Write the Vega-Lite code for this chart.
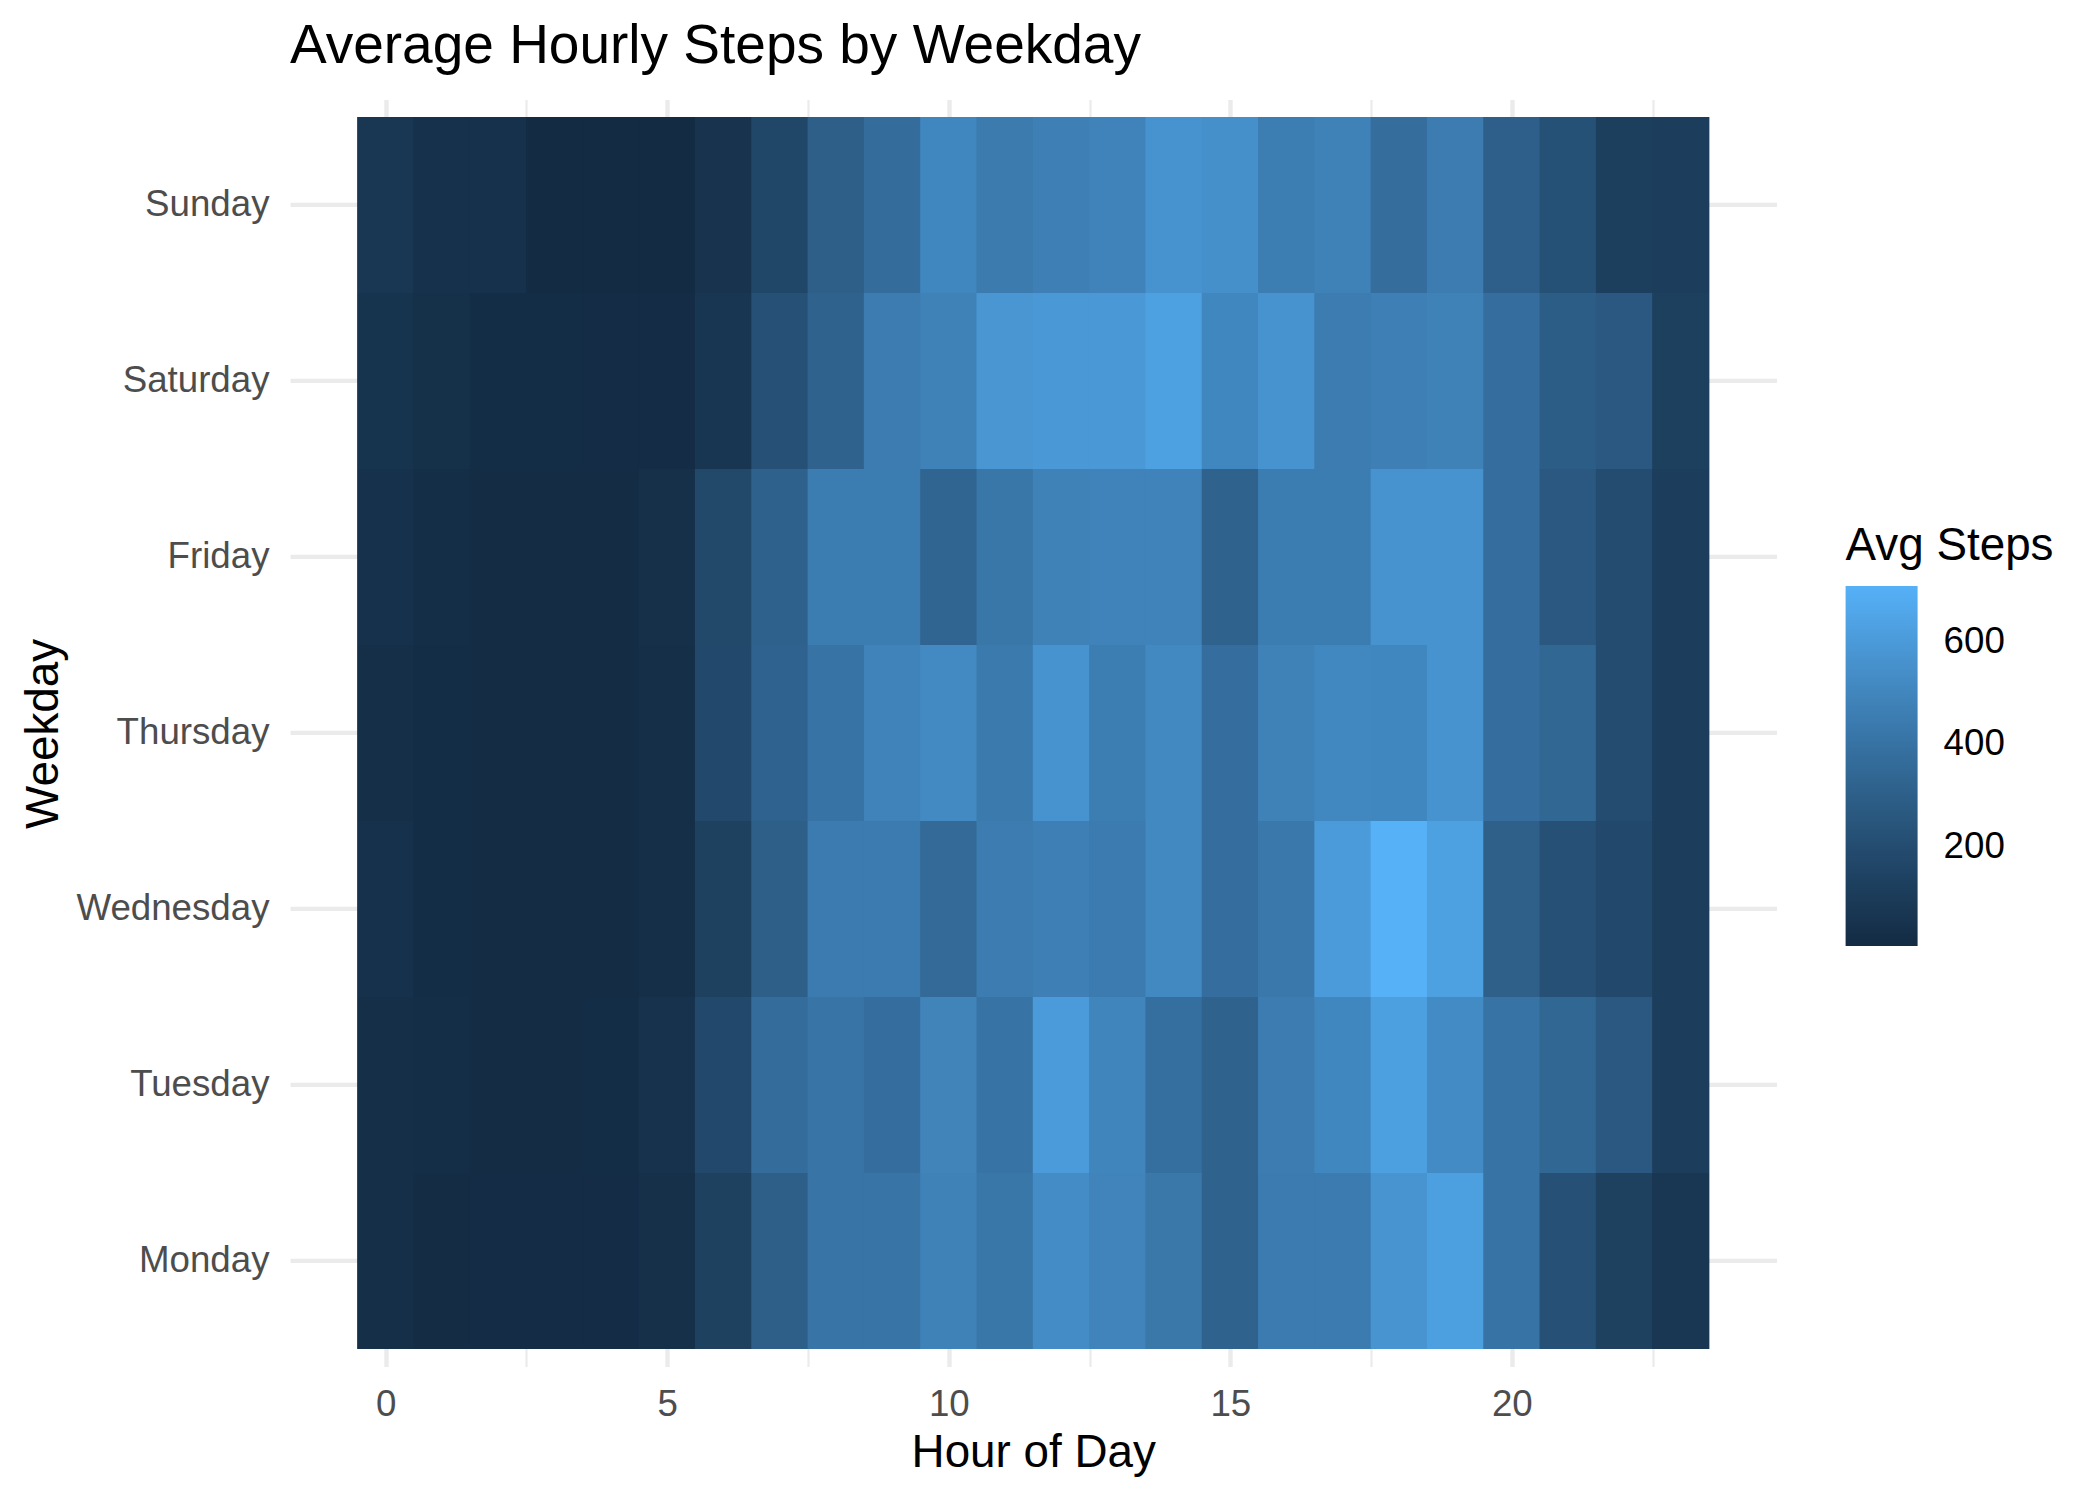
{
  "$schema": "https://vega.github.io/schema/vega-lite/v6.json",
  "autosize": {"type": "none"},
  "padding": {"left": 290, "top": 99.4, "right": 323.5, "bottom": 133.4},
  "width": 1486.5,
  "height": 1267.2,
  "background": "white",
  "title": {
    "text": "Average Hourly Steps by Weekday",
    "anchor": "start",
    "frame": "group",
    "baseline": "alphabetic",
    "offset": 35,
    "dy": 54,
    "font": "Liberation Sans",
    "fontSize": 55,
    "fontWeight": "normal",
    "color": "black",
    "limit": 2000
  },
  "config": {
    "view": {"stroke": null},
    "font": "Liberation Sans"
  },
  "data": {
    "values": [
      {"weekday":"Sunday","hour":0,"steps":72},{"weekday":"Sunday","hour":1,"steps":42},{"weekday":"Sunday","hour":2,"steps":42},{"weekday":"Sunday","hour":3,"steps":12},{"weekday":"Sunday","hour":4,"steps":8},{"weekday":"Sunday","hour":5,"steps":12},{"weekday":"Sunday","hour":6,"steps":55},{"weekday":"Sunday","hour":7,"steps":168},{"weekday":"Sunday","hour":8,"steps":301},{"weekday":"Sunday","hour":9,"steps":373},{"weekday":"Sunday","hour":10,"steps":504},{"weekday":"Sunday","hour":11,"steps":444},{"weekday":"Sunday","hour":12,"steps":471},{"weekday":"Sunday","hour":13,"steps":486},{"weekday":"Sunday","hour":14,"steps":564},{"weekday":"Sunday","hour":15,"steps":545},{"weekday":"Sunday","hour":16,"steps":458},{"weekday":"Sunday","hour":17,"steps":478},{"weekday":"Sunday","hour":18,"steps":378},{"weekday":"Sunday","hour":19,"steps":449},{"weekday":"Sunday","hour":20,"steps":302},{"weekday":"Sunday","hour":21,"steps":225},{"weekday":"Sunday","hour":22,"steps":126},{"weekday":"Sunday","hour":23,"steps":117},
      {"weekday":"Saturday","hour":0,"steps":60},{"weekday":"Saturday","hour":1,"steps":35},{"weekday":"Saturday","hour":2,"steps":20},{"weekday":"Saturday","hour":3,"steps":20},{"weekday":"Saturday","hour":4,"steps":15},{"weekday":"Saturday","hour":5,"steps":15},{"weekday":"Saturday","hour":6,"steps":70},{"weekday":"Saturday","hour":7,"steps":220},{"weekday":"Saturday","hour":8,"steps":320},{"weekday":"Saturday","hour":9,"steps":449},{"weekday":"Saturday","hour":10,"steps":480},{"weekday":"Saturday","hour":11,"steps":580},{"weekday":"Saturday","hour":12,"steps":590},{"weekday":"Saturday","hour":13,"steps":590},{"weekday":"Saturday","hour":14,"steps":630},{"weekday":"Saturday","hour":15,"steps":505},{"weekday":"Saturday","hour":16,"steps":565},{"weekday":"Saturday","hour":17,"steps":449},{"weekday":"Saturday","hour":18,"steps":470},{"weekday":"Saturday","hour":19,"steps":480},{"weekday":"Saturday","hour":20,"steps":380},{"weekday":"Saturday","hour":21,"steps":290},{"weekday":"Saturday","hour":22,"steps":265},{"weekday":"Saturday","hour":23,"steps":130},
      {"weekday":"Friday","hour":0,"steps":45},{"weekday":"Friday","hour":1,"steps":25},{"weekday":"Friday","hour":2,"steps":18},{"weekday":"Friday","hour":3,"steps":18},{"weekday":"Friday","hour":4,"steps":18},{"weekday":"Friday","hour":5,"steps":40},{"weekday":"Friday","hour":6,"steps":175},{"weekday":"Friday","hour":7,"steps":310},{"weekday":"Friday","hour":8,"steps":455},{"weekday":"Friday","hour":9,"steps":455},{"weekday":"Friday","hour":10,"steps":330},{"weekday":"Friday","hour":11,"steps":425},{"weekday":"Friday","hour":12,"steps":478},{"weekday":"Friday","hour":13,"steps":486},{"weekday":"Friday","hour":14,"steps":486},{"weekday":"Friday","hour":15,"steps":315},{"weekday":"Friday","hour":16,"steps":455},{"weekday":"Friday","hour":17,"steps":455},{"weekday":"Friday","hour":18,"steps":565},{"weekday":"Friday","hour":19,"steps":565},{"weekday":"Friday","hour":20,"steps":380},{"weekday":"Friday","hour":21,"steps":265},{"weekday":"Friday","hour":22,"steps":200},{"weekday":"Friday","hour":23,"steps":115},
      {"weekday":"Thursday","hour":0,"steps":30},{"weekday":"Thursday","hour":1,"steps":22},{"weekday":"Thursday","hour":2,"steps":18},{"weekday":"Thursday","hour":3,"steps":18},{"weekday":"Thursday","hour":4,"steps":18},{"weekday":"Thursday","hour":5,"steps":32},{"weekday":"Thursday","hour":6,"steps":180},{"weekday":"Thursday","hour":7,"steps":318},{"weekday":"Thursday","hour":8,"steps":405},{"weekday":"Thursday","hour":9,"steps":486},{"weekday":"Thursday","hour":10,"steps":520},{"weekday":"Thursday","hour":11,"steps":440},{"weekday":"Thursday","hour":12,"steps":565},{"weekday":"Thursday","hour":13,"steps":458},{"weekday":"Thursday","hour":14,"steps":515},{"weekday":"Thursday","hour":15,"steps":380},{"weekday":"Thursday","hour":16,"steps":478},{"weekday":"Thursday","hour":17,"steps":508},{"weekday":"Thursday","hour":18,"steps":505},{"weekday":"Thursday","hour":19,"steps":565},{"weekday":"Thursday","hour":20,"steps":380},{"weekday":"Thursday","hour":21,"steps":340},{"weekday":"Thursday","hour":22,"steps":200},{"weekday":"Thursday","hour":23,"steps":115},
      {"weekday":"Wednesday","hour":0,"steps":45},{"weekday":"Wednesday","hour":1,"steps":22},{"weekday":"Wednesday","hour":2,"steps":18},{"weekday":"Wednesday","hour":3,"steps":18},{"weekday":"Wednesday","hour":4,"steps":18},{"weekday":"Wednesday","hour":5,"steps":32},{"weekday":"Wednesday","hour":6,"steps":135},{"weekday":"Wednesday","hour":7,"steps":298},{"weekday":"Wednesday","hour":8,"steps":445},{"weekday":"Wednesday","hour":9,"steps":445},{"weekday":"Wednesday","hour":10,"steps":355},{"weekday":"Wednesday","hour":11,"steps":450},{"weekday":"Wednesday","hour":12,"steps":470},{"weekday":"Wednesday","hour":13,"steps":445},{"weekday":"Wednesday","hour":14,"steps":512},{"weekday":"Wednesday","hour":15,"steps":380},{"weekday":"Wednesday","hour":16,"steps":430},{"weekday":"Wednesday","hour":17,"steps":605},{"weekday":"Wednesday","hour":18,"steps":708},{"weekday":"Wednesday","hour":19,"steps":630},{"weekday":"Wednesday","hour":20,"steps":305},{"weekday":"Wednesday","hour":21,"steps":220},{"weekday":"Wednesday","hour":22,"steps":180},{"weekday":"Wednesday","hour":23,"steps":115},
      {"weekday":"Tuesday","hour":0,"steps":30},{"weekday":"Tuesday","hour":1,"steps":25},{"weekday":"Tuesday","hour":2,"steps":18},{"weekday":"Tuesday","hour":3,"steps":18},{"weekday":"Tuesday","hour":4,"steps":20},{"weekday":"Tuesday","hour":5,"steps":50},{"weekday":"Tuesday","hour":6,"steps":180},{"weekday":"Tuesday","hour":7,"steps":375},{"weekday":"Tuesday","hour":8,"steps":410},{"weekday":"Tuesday","hour":9,"steps":380},{"weekday":"Tuesday","hour":10,"steps":488},{"weekday":"Tuesday","hour":11,"steps":405},{"weekday":"Tuesday","hour":12,"steps":600},{"weekday":"Tuesday","hour":13,"steps":495},{"weekday":"Tuesday","hour":14,"steps":385},{"weekday":"Tuesday","hour":15,"steps":315},{"weekday":"Tuesday","hour":16,"steps":450},{"weekday":"Tuesday","hour":17,"steps":505},{"weekday":"Tuesday","hour":18,"steps":625},{"weekday":"Tuesday","hour":19,"steps":525},{"weekday":"Tuesday","hour":20,"steps":405},{"weekday":"Tuesday","hour":21,"steps":340},{"weekday":"Tuesday","hour":22,"steps":265},{"weekday":"Tuesday","hour":23,"steps":115},
      {"weekday":"Monday","hour":0,"steps":32},{"weekday":"Monday","hour":1,"steps":18},{"weekday":"Monday","hour":2,"steps":15},{"weekday":"Monday","hour":3,"steps":15},{"weekday":"Monday","hour":4,"steps":15},{"weekday":"Monday","hour":5,"steps":40},{"weekday":"Monday","hour":6,"steps":135},{"weekday":"Monday","hour":7,"steps":300},{"weekday":"Monday","hour":8,"steps":410},{"weekday":"Monday","hour":9,"steps":410},{"weekday":"Monday","hour":10,"steps":480},{"weekday":"Monday","hour":11,"steps":425},{"weekday":"Monday","hour":12,"steps":530},{"weekday":"Monday","hour":13,"steps":490},{"weekday":"Monday","hour":14,"steps":428},{"weekday":"Monday","hour":15,"steps":315},{"weekday":"Monday","hour":16,"steps":445},{"weekday":"Monday","hour":17,"steps":445},{"weekday":"Monday","hour":18,"steps":570},{"weekday":"Monday","hour":19,"steps":625},{"weekday":"Monday","hour":20,"steps":405},{"weekday":"Monday","hour":21,"steps":220},{"weekday":"Monday","hour":22,"steps":135},{"weekday":"Monday","hour":23,"steps":75}
    ]
  },
  "resolve": {"axis": {"x": "independent"}},
  "layer": [
    {
      "mark": {"type": "rect", "width": 57.2, "strokeWidth": 0},
      "encoding": {
        "x": {
          "field": "hour",
          "type": "quantitative",
          "scale": {"domain": [-1.7, 24.7], "nice": false, "zero": false},
          "axis": {
            "title": "Hour of Day",
            "values": [0, 5, 10, 15, 20],
            "format": "d",
            "orient": "bottom",
            "zindex": 0,
            "domain": false,
            "ticks": false,
            "tickSize": 0,
            "labelPadding": 20,
            "labelFont": "Liberation Sans",
            "labelFontSize": 36.7,
            "labelColor": "#4D4D4D",
            "labelFlush": false,
            "labelOverlap": false,
            "grid": true,
            "gridColor": "#EBEBEB",
            "gridWidth": 4.4,
            "titleFont": "Liberation Sans",
            "titleFontSize": 45.8,
            "titleFontWeight": "normal",
            "titleColor": "black",
            "titleBaseline": "alphabetic",
            "titleY": 99.7
          }
        },
        "y": {
          "field": "weekday",
          "type": "nominal",
          "scale": {
            "domain": ["Sunday", "Saturday", "Friday", "Thursday", "Wednesday", "Tuesday", "Monday"],
            "paddingInner": 0,
            "paddingOuter": 0.1
          },
          "axis": {
            "title": "Weekday",
            "zindex": 0,
            "domain": false,
            "ticks": false,
            "tickSize": 0,
            "bandPosition": 0.5,
            "labelPadding": 21,
            "labelLimit": 500,
            "labelFont": "Liberation Sans",
            "labelFontSize": 36.7,
            "labelColor": "#4D4D4D",
            "grid": true,
            "gridColor": "#EBEBEB",
            "gridWidth": 4.4,
            "titleFont": "Liberation Sans",
            "titleFontSize": 45.8,
            "titleFontWeight": "normal",
            "titleColor": "black",
            "titleAngle": 270,
            "titleBaseline": "alphabetic",
            "titleX": -233,
            "titleY": 634
          }
        },
        "color": {
          "field": "steps",
          "type": "quantitative",
          "scale": {
            "range": ["#132B43", "#56B1F7"],
            "interpolate": "lab",
            "domain": [8, 708],
            "zero": false,
            "nice": false
          },
          "legend": {
            "title": "Avg Steps",
            "orient": "none",
            "legendX": 1555.6,
            "legendY": 424.2,
            "direction": "vertical",
            "values": [200, 400, 600],
            "gradientLength": 360,
            "gradientThickness": 72,
            "gradientStrokeWidth": 0,
            "padding": 0,
            "labelFont": "Liberation Sans",
            "labelFontSize": 36.7,
            "labelColor": "black",
            "labelOffset": 26,
            "titleFont": "Liberation Sans",
            "titleFontSize": 45.8,
            "titleFontWeight": "normal",
            "titleColor": "black",
            "titlePadding": 16.6,
            "titleBaseline": "top",
            "titleLimit": 500
          }
        }
      }
    },
    {
      "mark": {"type": "point", "opacity": 0},
      "encoding": {
        "x": {
          "field": "hour",
          "type": "quantitative",
          "scale": {"domain": [-1.7, 24.7], "nice": false, "zero": false},
          "axis": {
            "orient": "top",
            "values": [2.5, 7.5, 12.5, 17.5, 22.5],
            "zindex": 0,
            "title": null,
            "labels": false,
            "domain": false,
            "ticks": false,
            "grid": true,
            "gridColor": "#EBEBEB",
            "gridWidth": 2.2
          }
        }
      }
    }
  ]
}
